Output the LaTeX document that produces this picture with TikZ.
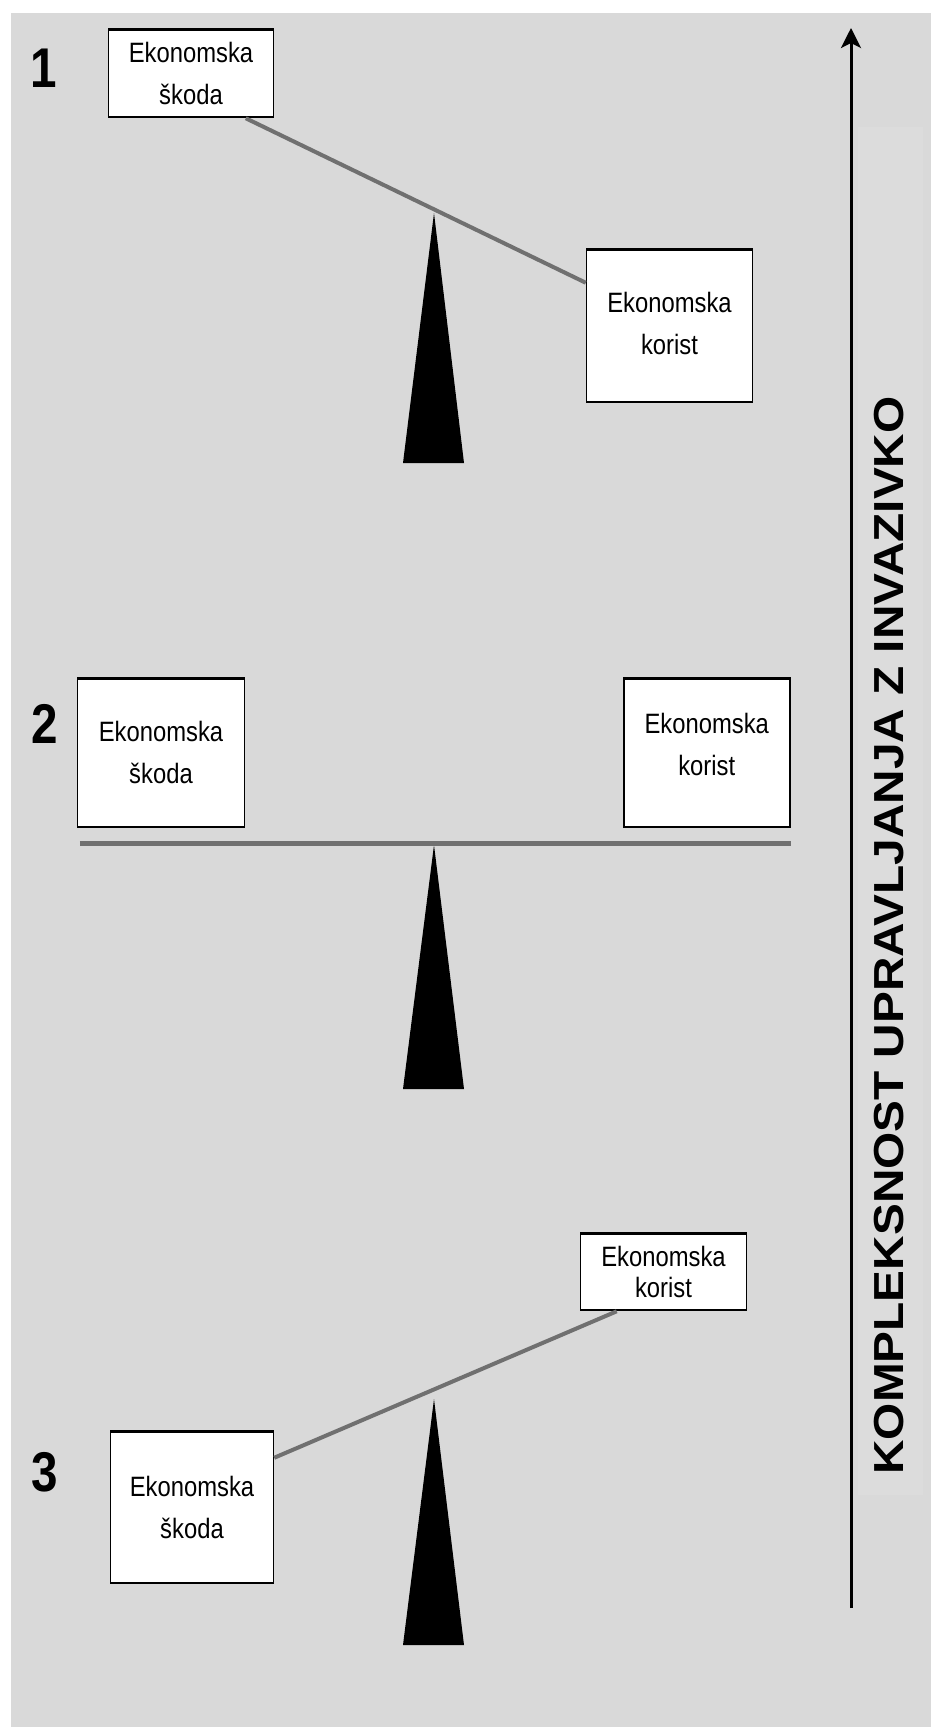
\documentclass[tikz,border=0pt]{standalone}
\usepackage{fontspec}
\setmainfont{Liberation Sans}
\newfontfamily\boxfont[FakeStretch=0.85]{Liberation Sans}
\newfontfamily\numfont[FakeStretch=0.85]{Liberation Sans}
\newfontfamily\axisfont[FakeStretch=1.137]{Liberation Sans}
\usetikzlibrary{arrows.meta,calc}
\definecolor{bggray}{RGB}{217,217,217}
\definecolor{lightbg}{RGB}{220,220,220}
\definecolor{beamgray}{RGB}{112,112,112}
\begin{document}
\begin{tikzpicture}[x=1pt,y=-1pt,
  ebox/.style={draw=black, line width=1.5pt, fill=white, inner sep=0pt, align=center,
    font=\boxfont\fontsize{28}{42}\selectfont,
    path picture={
      \draw[line width=4pt] (path picture bounding box.north west) -- (path picture bounding box.north east);
      \draw[line width=4pt] (path picture bounding box.south west) -- (path picture bounding box.south east);
    }},
  tightlead/.style={font=\boxfont\fontsize{28}{31}\selectfont},
  beam/.style={draw=beamgray, line width=4pt},
  flatbeam/.style={draw=beamgray, line width=5.5pt},
  pivot/.style={fill=black},
  num/.style={font=\numfont\bfseries\fontsize{56}{56}\selectfont, inner sep=0pt},
  axislabel/.style={rotate=90, inner sep=0pt, font=\axisfont\bfseries\fontsize{42}{42}\selectfont},
  axisarrow/.style={draw=black, line width=3pt, -{Stealth[length=20pt,width=20pt,inset=5pt]}}
]
\useasboundingbox (0,0) rectangle (931,1727);
\fill[white] (0,0) rectangle (931,1727);
\fill[bggray] (11,13) rectangle (931,1727);
\fill[lightbg] (858,127) rectangle (923,1495);

% axis arrow and label
\coordinate (abot) at (851,1608);
\coordinate (atop) at (851,28);
\draw[axisarrow] (abot) -- (atop);
\node[axislabel] (axis) at (889,935.5) {KOMPLEKSNOST UPRAVLJANJA Z INVAZIVKO};

% numbers
\node[num] (n1) at (44,68) {1};
\node[num] (n2) at (44.5,724) {2};
\node[num] (n3) at (44.5,1472.5) {3};

% pivots
\fill[pivot] (434,213) -- (464,463) -- (403,463) -- cycle;
\fill[pivot] (434,845) -- (464,1089) -- (403,1089) -- cycle;
\fill[pivot] (434,1399) -- (464,1645) -- (403,1645) -- cycle;

% scale 1
\node[ebox, minimum width=165pt, minimum height=89pt] (b1a) at (191,73) {Ekonomska\\škoda};
\node[ebox, minimum width=166pt, minimum height=154pt, text depth=4pt] (b1b) at (669.5,325.5) {Ekonomska\\korist};
\draw[beam] ($(b1a.south west)+(138,0)$) -- ($(b1b.north west)+(0,35)$);

% scale 2
\node[ebox, minimum width=167pt, minimum height=150pt] (b2a) at (161,752.5) {Ekonomska\\škoda};
\node[ebox, minimum width=166pt, minimum height=150pt, text depth=16pt] (b2b) at (706.75,752.5) {Ekonomska\\korist};
\draw[flatbeam] ($(b2a.south west)+(3,15)$) -- ($(b2b.south east)+(0,15)$);

% scale 3
\node[ebox, tightlead, minimum width=166pt, minimum height=78pt] (b3b) at (663.5,1271.5) {Ekonomska\\korist};
\node[ebox, minimum width=163pt, minimum height=153pt] (b3a) at (192,1507) {Ekonomska\\škoda};
\draw[beam] ($(b3a.north east)+(0,28)$) -- ($(b3b.south west)+(37,0)$);
\end{tikzpicture}
\end{document}
